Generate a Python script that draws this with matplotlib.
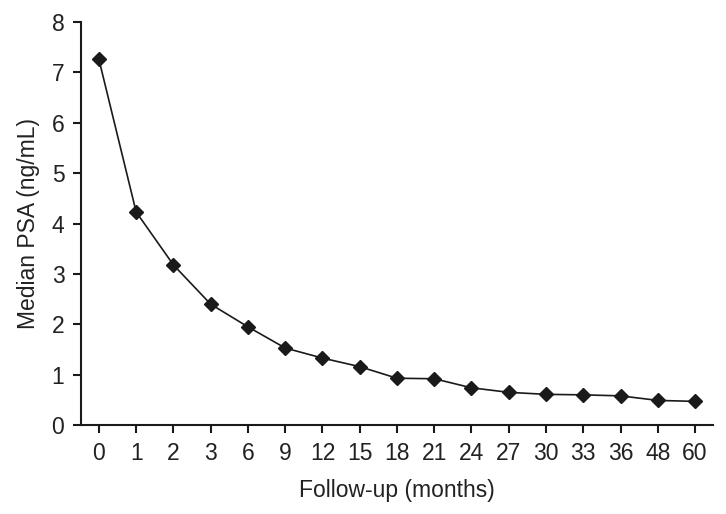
import matplotlib.pyplot as plt

# Follow-up times and median PSA values
months = ['0', '1', '2', '3', '6', '9', '12', '15', '18', '21', '24', '27', '30', '33', '36', '48', '60']
median_psa = [7.26, 4.23, 3.18, 2.40, 1.95, 1.53, 1.33, 1.16, 0.93, 0.92, 0.74, 0.65, 0.61, 0.60, 0.58, 0.49, 0.47]

plt.rcParams['font.family'] = ['Liberation Sans', 'DejaVu Sans']

fig = plt.figure(figsize=(7.26, 5.14), dpi=100)
ax = fig.add_axes([0.1116, 0.173, 0.8704, 0.784])

x = list(range(len(months)))
ax.plot(x, median_psa, color='#1a1a1a', linewidth=1.2, marker='D', markersize=7,
        markerfacecolor='#1a1a1a', markeredgecolor='#1a1a1a')

ax.set_xticks(x)
ax.set_xticklabels(months)
ax.set_xlim(-0.48, len(months) - 0.52)
ax.set_ylim(0, 8)
ax.set_yticks(range(0, 9))

for side in ['top', 'right']:
    ax.spines[side].set_visible(False)
for side in ['left', 'bottom']:
    ax.spines[side].set_linewidth(1.5)
    ax.spines[side].set_color('#1a1a1a')

ax.tick_params(axis='both', direction='out', length=6, width=1.5, colors='#1a1a1a',
               labelsize=16.5, labelcolor='#222222', pad=6)

ax.set_xlabel('Follow-up (months)', fontsize=16.5, color='#222222', labelpad=10)
ax.set_ylabel('Median PSA (ng/mL)', fontsize=16.5, color='#222222', labelpad=8)

plt.savefig('out.png', dpi=100)
